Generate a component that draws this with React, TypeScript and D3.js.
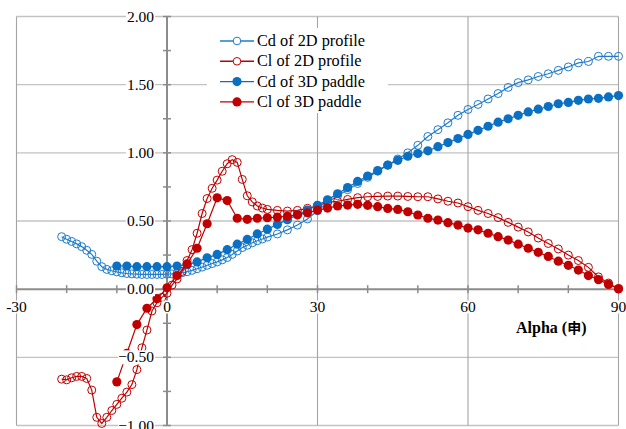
import React from "react";
import * as d3 from "d3";

const alpha2D = [-21,-20,-19,-18,-17,-16,-15,-14,-13,-12,-11,-10,-9,-8,-7,-6,-5,-4,-3,-2,-1,0,1,2,3,4,5,6,7,8,9,10,11,12,13,14,15,16,17,18,19,20,22,24,26,28,30,32,34,36,38,40,42,44,46,48,50,52,54,56,58,60,62,64,66,68,70,72,74,76,78,80,82,84,86,88,90];
const cd2D = [0.385,0.366,0.35,0.332,0.312,0.285,0.255,0.205,0.165,0.145,0.135,0.127,0.12,0.115,0.112,0.11,0.108,0.108,0.108,0.108,0.108,0.11,0.112,0.115,0.12,0.128,0.138,0.15,0.162,0.175,0.188,0.2,0.215,0.232,0.255,0.28,0.305,0.322,0.34,0.355,0.368,0.382,0.405,0.435,0.47,0.515,0.575,0.635,0.685,0.73,0.775,0.82,0.865,0.91,0.955,1.0,1.055,1.12,1.17,1.22,1.275,1.318,1.355,1.395,1.435,1.48,1.515,1.535,1.56,1.58,1.605,1.63,1.66,1.67,1.708,1.708,1.708];
const cl2D = [-0.66,-0.665,-0.65,-0.64,-0.64,-0.655,-0.74,-0.94,-0.985,-0.94,-0.89,-0.845,-0.8,-0.755,-0.7,-0.59,-0.43,-0.3,-0.16,-0.1,-0.06,-0.03,0.03,0.075,0.13,0.21,0.29,0.41,0.555,0.665,0.74,0.8,0.865,0.92,0.95,0.93,0.805,0.685,0.64,0.61,0.595,0.585,0.578,0.573,0.578,0.593,0.612,0.637,0.645,0.658,0.671,0.678,0.68,0.683,0.683,0.68,0.678,0.678,0.662,0.645,0.632,0.605,0.578,0.555,0.525,0.49,0.455,0.42,0.375,0.335,0.295,0.25,0.21,0.16,0.09,0.045,0.0];

const alpha3D = [-10,-8,-6,-4,-2,0,2,4,6,8,10,12,14,16,18,20,22,24,26,28,30,32,34,36,38,40,42,44,46,48,50,52,54,56,58,60,62,64,66,68,70,72,74,76,78,80,82,84,86,88,90];
const cd3D = [0.17,0.17,0.165,0.165,0.165,0.165,0.17,0.18,0.2,0.23,0.255,0.29,0.33,0.365,0.405,0.44,0.475,0.51,0.545,0.58,0.615,0.655,0.7,0.745,0.79,0.83,0.87,0.91,0.945,0.975,0.995,1.015,1.045,1.075,1.105,1.135,1.165,1.195,1.225,1.25,1.275,1.3,1.32,1.34,1.36,1.37,1.385,1.395,1.4,1.41,1.42];
const cl3D = [-0.68,-0.47,-0.26,-0.14,-0.07,0.01,0.1,0.185,0.3,0.48,0.67,0.65,0.52,0.512,0.52,0.524,0.528,0.535,0.545,0.56,0.58,0.595,0.61,0.617,0.622,0.615,0.605,0.592,0.585,0.568,0.544,0.52,0.507,0.488,0.47,0.448,0.435,0.41,0.385,0.36,0.33,0.3,0.27,0.24,0.205,0.175,0.14,0.1,0.07,0.035,0.005];

const yTicks = [2, 1.5, 1, 0.5, 0, -0.5, -1];
const yMinor = [2, 1.75, 1.5, 1.25, 1, 0.75, 0.5, 0.25, 0, -0.25, -0.5, -0.75, -1];
const xTicks = [-30, 0, 30, 60, 90];
const xMinor = [-30, -20, -10, 0, 10, 20, 30, 40, 50, 60, 70, 80, 90];
const hGrid = [2, 1.5, 1, 0.5, -0.5, -1];
const vGrid = [-30, 30, 60, 90];

const BLUE = "#1f7ccc";
const RED = "#c00000";
const SERIF = "Liberation Serif";
const CJK = "Noto Sans CJK SC";

const series = [
  { name: "Cd of 2D profile", xs: alpha2D, ys: cd2D, color: BLUE, filled: false },
  { name: "Cl of 2D profile", xs: alpha2D, ys: cl2D, color: RED, filled: false },
  { name: "Cd of 3D paddle", xs: alpha3D, ys: cd3D, color: "#0b6fc2", filled: true },
  { name: "Cl of 3D paddle", xs: alpha3D, ys: cl3D, color: RED, filled: true },
];

function textW(s: string, size: number) {
  let w = 0;
  for (const c of s) w += c === "." ? 0.25 : c === "-" ? 0.333 : 0.5;
  return w * size;
}

const txt = { fontFamily: SERIF };

export default function App() {
  const x = d3.scaleLinear().domain([-30, 90]).range([16.5, 618.5]);
  const y = d3.scaleLinear().domain([-1, 2]).range([425.5, 16.5]);
  const line = d3.line<[number, number]>().x((d) => x(d[0])).y((d) => y(d[1]));
  const x0 = x(0);
  const y0 = y(0);
  const fs = 15.5;

  return (
    <svg width={626} height={429} style={{ position: "absolute", left: 0, top: 0, background: "#fff" }}>
      {hGrid.map((v) => (
        <line key={"h" + v} x1={x(-30)} x2={x(90)} y1={y(v)} y2={y(v)} stroke="#c3c3c3" strokeWidth={1.4} />
      ))}
      {vGrid.map((v) => (
        <line key={"v" + v} x1={x(v)} x2={x(v)} y1={y(2)} y2={y(-1)} stroke="#a5a5a5" strokeWidth={1.1} />
      ))}
      <line x1={x0} x2={x0} y1={y(2)} y2={y(-1)} stroke="#8c8c8c" strokeWidth={2} />
      <line x1={x(-30)} x2={x(90)} y1={y0} y2={y0} stroke="#8c8c8c" strokeWidth={2} />
      {yMinor.map((v) => (
        <line key={"ym" + v} x1={x0 - 4} x2={x0 + 4} y1={y(v)} y2={y(v)} stroke="#8c8c8c" strokeWidth={1.5} />
      ))}
      {xMinor.map((v) => (
        <line key={"xm" + v} x1={x(v)} x2={x(v)} y1={y0 - 4} y2={y0 + 4} stroke="#8c8c8c" strokeWidth={1.5} />
      ))}

      {series.map((s) => {
        const pts = s.xs.map((a, i) => [a, s.ys[i]] as [number, number]);
        return (
          <g key={s.name}>
            <path d={line(pts) || ""} fill="none" stroke={s.color} strokeWidth={1.2} />
            {pts.map((p, i) =>
              s.filled ? (
                <circle key={i} cx={x(p[0])} cy={y(p[1])} r={4.6} fill={s.color} />
              ) : (
                <circle key={i} cx={x(p[0])} cy={y(p[1])} r={4} fill="none" stroke={s.color} strokeWidth={1} />
              )
            )}
          </g>
        );
      })}

      {yTicks.map((v) => {
        const t = d3.format(".2f")(v);
        const w = textW(t, fs);
        return (
          <g key={"yl" + v}>
            <rect x={154 - w - 1} y={y(v) - 7} width={w + 2} height={14} fill="#fff" />
            <text x={154} y={y(v) + 5} textAnchor="end" fontSize={fs} fill="#000" style={txt}>
              {t}
            </text>
          </g>
        );
      })}
      {xTicks.map((v) => {
        const t = String(v);
        const w = textW(t, fs);
        return (
          <g key={"xl" + v}>
            <rect x={x(v) - w / 2 - 1} y={300.5} width={w + 2} height={13} fill="#fff" />
            <text x={x(v)} y={311.5} textAnchor="middle" fontSize={fs} fill="#000" style={txt}>
              {t}
            </text>
          </g>
        );
      })}

      <rect x={207} y={28} width={181} height={85} fill="#fff" />
      {series.map((s, i) => {
        const cy = 41 + i * 20.3;
        return (
          <g key={"lg" + i}>
            <line x1={220} x2={254} y1={cy} y2={cy} stroke={s.color} strokeWidth={1.4} />
            {s.filled ? (
              <circle cx={237} cy={cy} r={4.6} fill={s.color} />
            ) : (
              <circle cx={237} cy={cy} r={3.8} fill="#fff" stroke={s.color} strokeWidth={1} />
            )}
            <text x={257} y={cy + 5} fontSize={16.3} fill="#000" style={txt}>
              {s.name}
            </text>
          </g>
        );
      })}

      <text x={516} y={333} fontSize={16} fontWeight="bold" fill="#000" style={txt}>
        Alpha (<tspan style={{ fontFamily: CJK }} fontSize={14}>申</tspan>)
      </text>
    </svg>
  );
}
